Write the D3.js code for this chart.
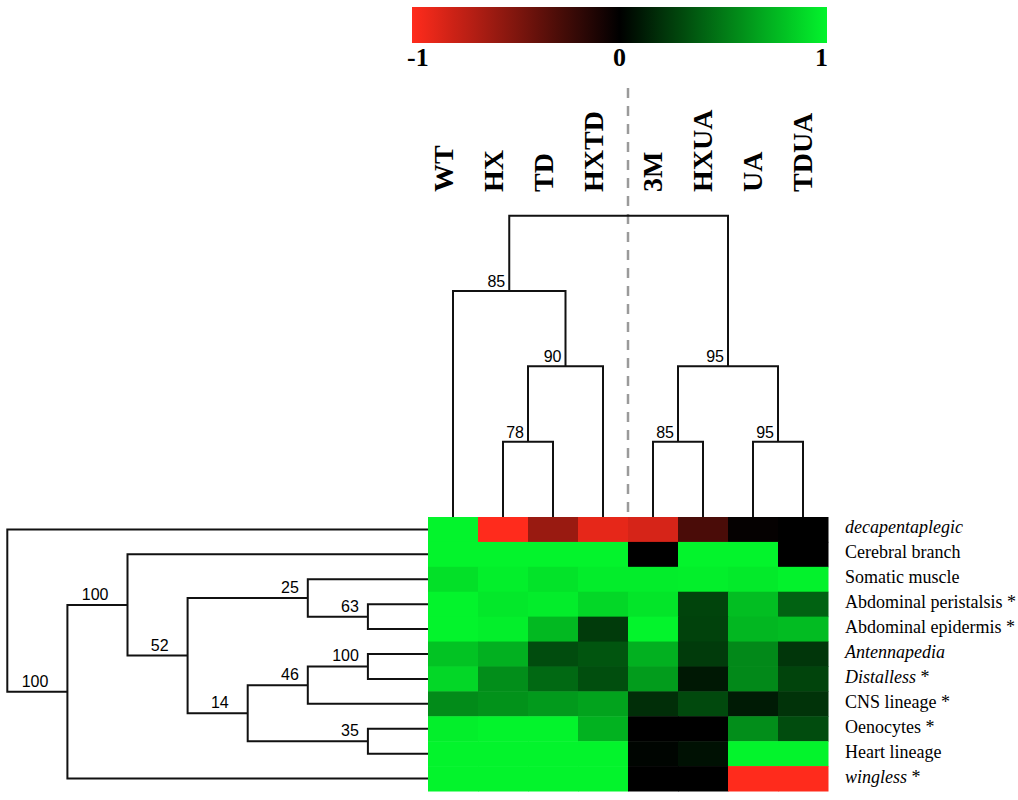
<!DOCTYPE html>
<html>
<head>
<meta charset="utf-8">
<script src="https://cdn.jsdelivr.net/npm/d3@7"></script>
<style>
body { margin: 0; background: #fff; }
</style>
</head>
<body>
<svg id="chart" width="1018" height="800"></svg>
<script>
// columns (samples) and rows (traits)
var samples = ["WT", "HX", "TD", "HXTD", "3M", "HXUA", "UA", "TDUA"];
var rowNames = ["decapentaplegic", "Cerebral branch", "Somatic muscle", "Abdominal peristalsis",
  "Abdominal epidermis", "Antennapedia", "Distalless", "CNS lineage", "Oenocytes",
  "Heart lineage", "wingless"];
var italicRows = ["decapentaplegic", "Antennapedia", "Distalless", "wingless"];
var starredRows = ["Abdominal peristalsis", "Abdominal epidermis", "Distalless", "CNS lineage", "Oenocytes", "wingless"];

// correlation values, one row per trait, columns in sample order
var values = [
  [1.00, -1.00, -0.60, -0.90, -0.84, -0.29, -0.02, 0.00],
  [1.00, 1.00, 1.00, 1.00, 0.00, 1.00, 1.00, 0.00],
  [0.92, 0.98, 0.93, 0.97, 0.97, 0.98, 0.96, 0.99],
  [1.00, 0.95, 0.97, 0.88, 0.94, 0.28, 0.78, 0.40],
  [1.00, 0.98, 0.76, 0.24, 1.00, 0.27, 0.75, 0.77],
  [0.80, 0.72, 0.31, 0.35, 0.72, 0.24, 0.56, 0.22],
  [0.88, 0.58, 0.43, 0.32, 0.64, 0.10, 0.56, 0.28],
  [0.57, 0.60, 0.63, 0.67, 0.19, 0.30, 0.11, 0.21],
  [0.98, 1.00, 1.00, 0.73, 0.00, 0.00, 0.58, 0.31],
  [1.00, 1.00, 1.00, 1.00, 0.02, 0.07, 1.00, 1.00],
  [1.00, 1.00, 1.00, 1.00, 0.00, 0.00, -1.00, -1.00]
];

var colorTicks = [-1, 0, 1];

// clustering of samples (height = merge level, support = bootstrap %)
var colTree = {height: 4, children: [
  {height: 3, support: 85, children: [
    {leaf: "WT"},
    {height: 2, support: 90, children: [
      {height: 1, support: 78, children: [{leaf: "HX"}, {leaf: "TD"}]},
      {leaf: "HXTD"}
    ]}
  ]},
  {height: 2, support: 95, children: [
    {height: 1, support: 85, children: [{leaf: "3M"}, {leaf: "HXUA"}]},
    {height: 1, support: 95, children: [{leaf: "UA"}, {leaf: "TDUA"}]}
  ]}
]};

// clustering of traits
var rowTree = {height: 7, children: [
  {leaf: "decapentaplegic"},
  {height: 6, support: 100, children: [
    {height: 5, support: 100, children: [
      {leaf: "Cerebral branch"},
      {height: 4, support: 52, children: [
        {height: 2, support: 25, children: [
          {leaf: "Somatic muscle"},
          {height: 1, support: 63, children: [{leaf: "Abdominal peristalsis"}, {leaf: "Abdominal epidermis"}]}
        ]},
        {height: 3, support: 14, children: [
          {height: 2, support: 46, children: [
            {height: 1, support: 100, children: [{leaf: "Antennapedia"}, {leaf: "Distalless"}]},
            {leaf: "CNS lineage"}
          ]},
          {height: 1, support: 35, children: [{leaf: "Oenocytes"}, {leaf: "Heart lineage"}]}
        ]}
      ]}
    ]},
    {leaf: "wingless"}
  ]}
]};

var svg = d3.select("#chart");
var serif = "'Liberation Serif', 'Times New Roman', serif";
var sans = "'Liberation Sans', Arial, Helvetica, sans-serif";

var heat = {left: 428, right: 828, top: 517, bottom: 791};

var x = d3.scaleBand().domain(samples).range([heat.left, heat.right]);
var y = d3.scaleBand().domain(rowNames).range([heat.top, heat.bottom]);

var color = d3.scaleLinear()
  .domain([-1, 0, 1])
  .range(["#ff2b1c", "#000000", "#03f42c"]);

// heatmap cells
var cells = [];
values.forEach(function(row, i) {
  row.forEach(function(v, j) {
    cells.push({row: rowNames[i], col: samples[j], v: v});
  });
});

svg.append("g").selectAll("rect")
  .data(cells)
  .enter().append("rect")
    .attr("x", function(d) { return x(d.col); })
    .attr("y", function(d) { return y(d.row); })
    .attr("width", x.bandwidth() + 0.5)
    .attr("height", y.bandwidth() + 0.5)
    .attr("fill", function(d) { return color(d.v); });

// color bar
var cb = d3.scaleLinear().domain([-1, 1]).range([412, 827]);
var grad = svg.append("defs").append("linearGradient")
  .attr("id", "cbar")
  .attr("x1", "0").attr("x2", "1").attr("y1", "0").attr("y2", "0");
grad.selectAll("stop")
  .data(d3.range(0, 1.0001, 0.05))
  .enter().append("stop")
    .attr("offset", function(d) { return (d * 100) + "%"; })
    .attr("stop-color", function(d) { return color(d * 2 - 1); });

svg.append("rect")
  .attr("x", cb(-1)).attr("y", 7)
  .attr("width", cb(1) - cb(-1)).attr("height", 36)
  .attr("fill", "url(#cbar)");

svg.append("g").selectAll("text")
  .data(colorTicks)
  .enter().append("text")
    .attr("x", function(d) { return d < 0 ? cb(d) - 5 : d > 0 ? cb(d) + 1 : cb(d); })
    .attr("y", 66)
    .attr("text-anchor", function(d) { return d < 0 ? "start" : d > 0 ? "end" : "middle"; })
    .style("font-family", serif)
    .style("font-weight", "bold")
    .style("font-size", "26px")
    .text(function(d) { return d; });

// dashed divider between groups
svg.append("line")
  .attr("x1", x("3M")).attr("x2", x("3M"))
  .attr("y1", 88).attr("y2", 512)
  .attr("stroke", "#9a9a9a")
  .attr("stroke-width", 2.5)
  .attr("stroke-dasharray", "10,8");

// column labels
svg.append("g").selectAll("text")
  .data(samples)
  .enter().append("text")
    .attr("transform", function(d, i) {
      var cx = x(d) + x.bandwidth() / 2 + (i < 4 ? 0 : 9);
      return "translate(" + cx + ",192) rotate(-90)";
    })
    .attr("text-anchor", "start")
    .style("font-family", serif)
    .style("font-weight", "bold")
    .style("font-size", "28px")
    .text(function(d) { return d; });

// row labels
var rl = svg.append("g").selectAll("text")
  .data(rowNames)
  .enter().append("text")
    .attr("x", 845)
    .attr("y", function(d) { return y(d) + y.bandwidth() / 2 + 4; })
    .style("font-family", serif)
    .style("font-size", "18px");
rl.append("tspan")
  .style("font-style", function(d) { return italicRows.indexOf(d) >= 0 ? "italic" : "normal"; })
  .text(function(d) { return d; });
rl.filter(function(d) { return starredRows.indexOf(d) >= 0; })
  .append("tspan")
  .text(" *");

// dendrogram layout: leaf position from the band scale, inner node = mid of children
function layout(tree, band) {
  var root = d3.hierarchy(tree);
  root.eachAfter(function(n) {
    if (!n.children) {
      n.h = 0;
      n.pos = band(n.data.leaf) + band.bandwidth() / 2;
    } else {
      n.h = n.data.height;
      n.pos = d3.mean(n.children, function(c) { return c.pos; });
    }
  });
  return root;
}

// top dendrogram
var topRoot = layout(colTree, x);
var hTop = d3.scaleLinear().domain([0, 4]).range([heat.top, 215.7]);
var topG = svg.append("g");

topG.selectAll("path")
  .data(topRoot.descendants().filter(function(n) { return n.children; }))
  .enter().append("path")
    .attr("d", function(n) {
      var a = n.children[0], b = n.children[1];
      return "M" + a.pos + "," + hTop(a.h) + "V" + hTop(n.h) +
        "H" + b.pos + "V" + hTop(b.h);
    })
    .attr("fill", "none")
    .attr("stroke", "#111")
    .attr("stroke-width", 2);

topG.selectAll("text")
  .data(topRoot.descendants().filter(function(n) { return n.data.support; }))
  .enter().append("text")
    .attr("x", function(n) { return n.pos - 4; })
    .attr("y", function(n) { return hTop(n.h) - 4; })
    .attr("text-anchor", "end")
    .style("font-family", sans)
    .style("font-size", "16px")
    .text(function(n) { return n.data.support; });

// left dendrogram
var leftRoot = layout(rowTree, y);
var hLeft = d3.scaleLinear().domain([0, 7]).range([heat.left, 7.3]);
var leftG = svg.append("g");

leftG.selectAll("path")
  .data(leftRoot.descendants().filter(function(n) { return n.children; }))
  .enter().append("path")
    .attr("d", function(n) {
      var a = n.children[0], b = n.children[1];
      return "M" + hLeft(a.h) + "," + a.pos + "H" + hLeft(n.h) +
        "V" + b.pos + "H" + hLeft(b.h);
    })
    .attr("fill", "none")
    .attr("stroke", "#111")
    .attr("stroke-width", 2);

leftG.selectAll("text")
  .data(leftRoot.descendants().filter(function(n) { return n.data.support; }))
  .enter().append("text")
    .attr("x", function(n) { return hLeft(n.h) - (n.h <= 2 ? 9 : 19); })
    .attr("y", function(n) { return n.pos - 5; })
    .attr("text-anchor", "end")
    .style("font-family", sans)
    .style("font-size", "16px")
    .text(function(n) { return n.data.support; });
</script>
</body>
</html>
